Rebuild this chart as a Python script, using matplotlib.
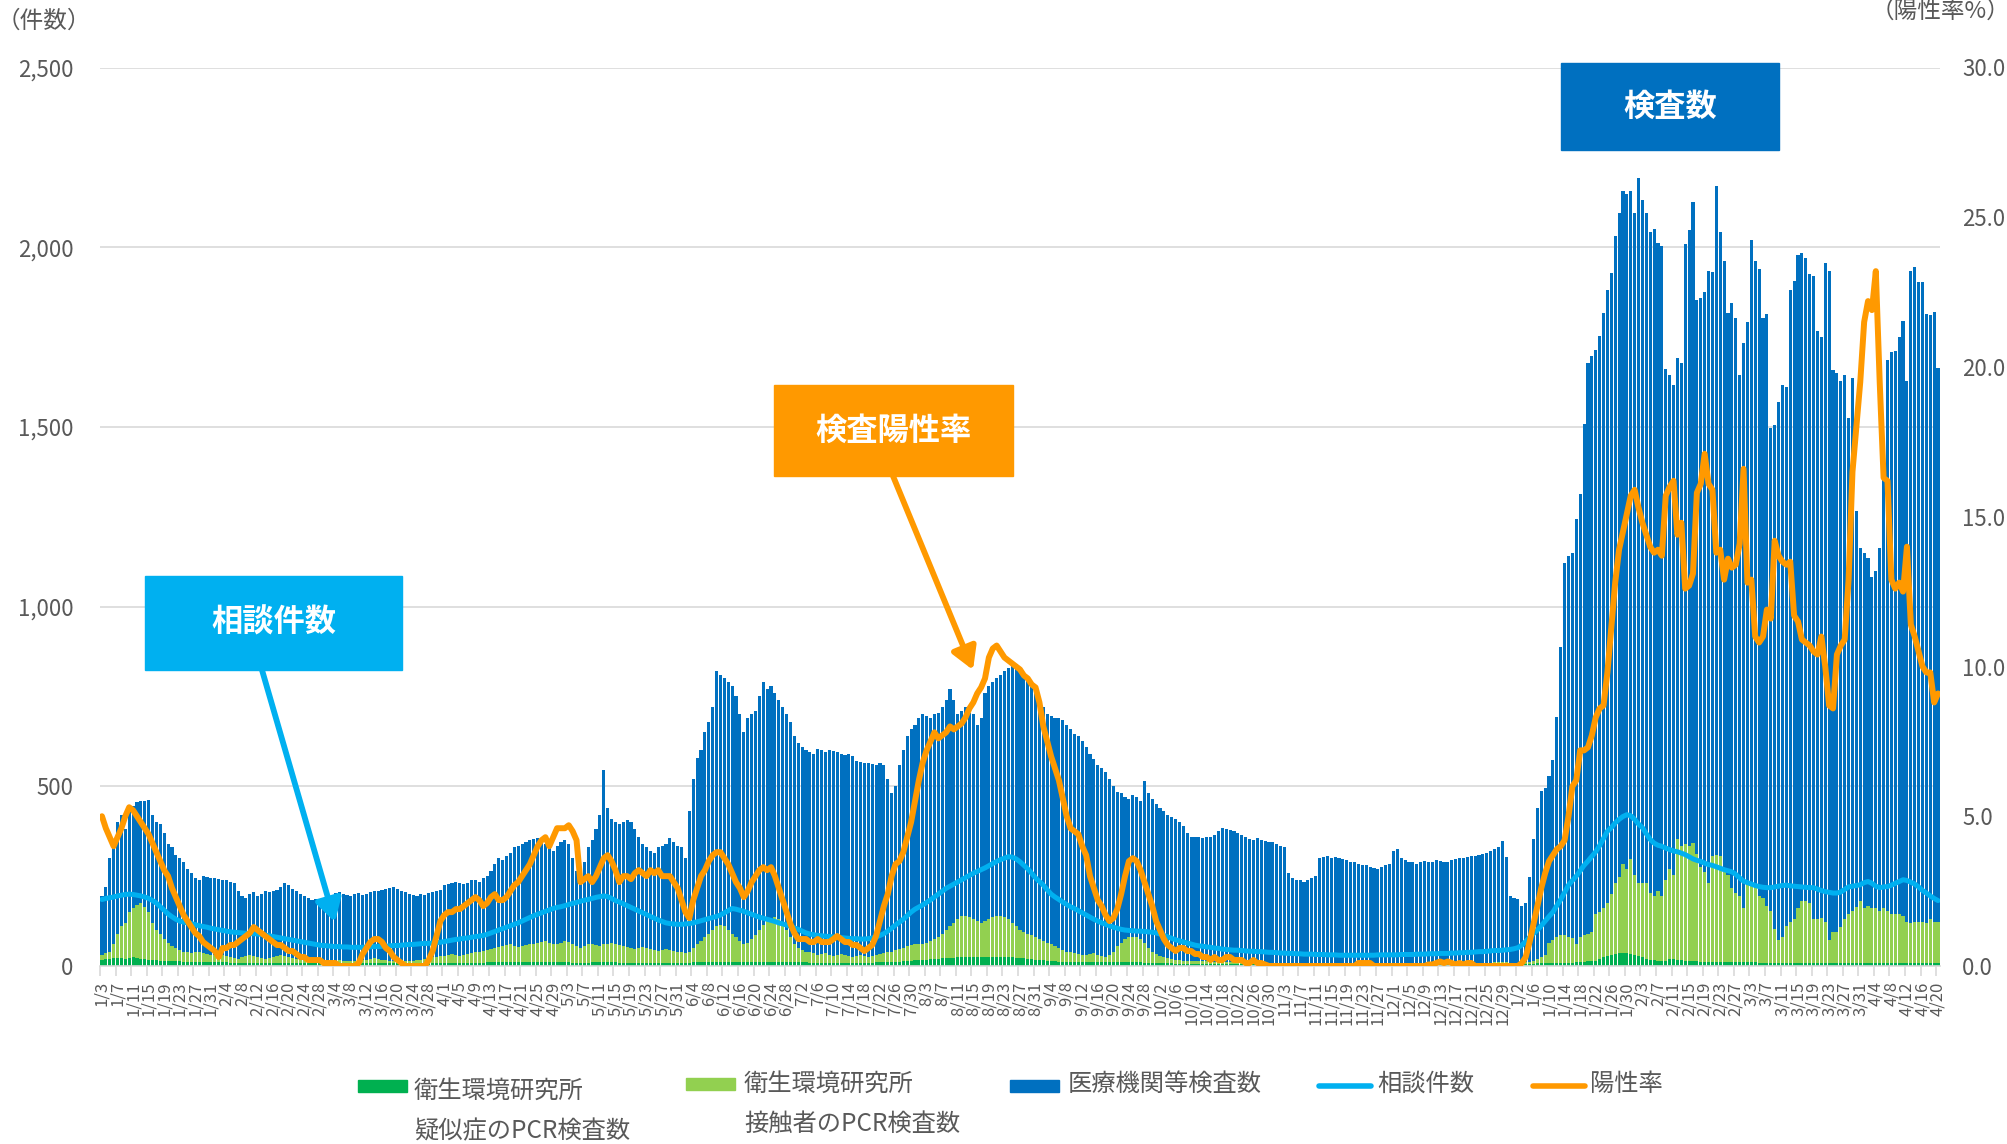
import numpy as np
import pandas as pd
import matplotlib
matplotlib.use("Agg")
import matplotlib.pyplot as plt
from matplotlib.patches import Rectangle, FancyArrowPatch
from matplotlib.lines import Line2D
from matplotlib.ticker import FuncFormatter

plt.rcParams["font.family"] = ["Noto Sans CJK JP", "DejaVu Sans"]

# ---- data (daily, 2021-01-03 .. 2022-04-20) ----
start_date = "2021-01-03"
end_date = "2022-04-20"

# total tests per day (top of the stacked bars)
total_tests = [
    195, 220, 300, 350, 400, 420, 380, 440, 445, 455, 460, 458, 462, 420, 400, 395, 370, 340, 330, 310, 300, 290, 270, 260, 245, 240, 250, 248, 245,
    245, 242, 240, 238, 235, 230, 210, 195, 190, 200, 205, 195, 200, 210, 205, 208, 212, 220, 232, 225, 215, 210, 200, 195, 190, 185, 186, 182,
    180, 178, 195, 202, 205, 200, 198, 196, 200, 202, 198, 200, 205, 208, 210, 212, 215, 218, 220, 215, 210, 205, 200, 198, 195, 200, 198, 202, 205, 208, 212,
    225, 228, 232, 235, 230, 228, 232, 238, 240, 235, 245, 250, 265, 285, 300, 295, 305, 315, 330, 335, 340, 345, 350, 352, 355, 350, 340, 330, 320, 335,
    345, 350, 340, 300, 265, 250, 290, 330, 350, 380, 420, 545, 440, 410, 400, 395, 400, 405, 400, 380, 360, 340, 330, 320, 315, 330, 335, 340, 355, 345, 335,
    330, 300, 430, 520, 580, 600, 650, 680, 720, 820, 810, 800, 790, 780, 750, 700, 650, 690, 700, 710, 750, 790, 770, 780, 760, 740, 720, 700, 680, 640,
    620, 610, 600, 595, 590, 605, 600, 595, 600, 598, 595, 590, 588, 590, 585, 570, 568, 565, 565, 562, 560, 565, 560, 520, 480, 500, 560, 600, 640, 660, 670,
    690, 700, 695, 690, 700, 705, 720, 740, 770, 740, 700, 710, 720, 705, 700, 670, 690, 760, 780, 790, 800, 810, 820, 830, 835, 840, 820, 810, 800, 780, 760,
    740, 720, 700, 695, 690, 690, 685, 670, 660, 645, 640, 625, 610, 590, 575, 560, 550, 540, 520, 500, 485, 480, 470, 465, 475, 470, 460, 515, 480, 465,
    450, 440, 430, 420, 415, 410, 400, 390, 370, 360, 358, 360, 355, 358, 360, 365, 375, 385, 380, 378, 375, 370, 365, 360, 352, 350, 355, 350, 348, 345, 345,
    340, 335, 330, 260, 245, 240, 238, 235, 240, 245, 250, 300, 302, 305, 300, 302, 300, 298, 295, 290, 288, 285, 282, 280, 275, 272, 270, 275, 280, 285,
    320, 325, 300, 295, 290, 288, 285, 290, 292, 288, 290, 295, 292, 290, 288, 295, 298, 300, 300, 302, 305, 305, 308, 312, 315, 320, 325, 330, 349, 302, 196,
    189, 186, 167, 174, 247, 352, 439, 487, 494, 530, 574, 693, 887, 1122, 1141, 1148, 1243, 1312, 1509, 1679, 1698, 1715, 1752, 1817, 1882, 1929, 2032, 2096, 2156, 2147, 2156,
    2096, 2192, 2132, 2096, 2042, 2052, 2013, 2003, 1660, 1645, 1616, 1693, 1679, 2009, 2049, 2126, 1853, 1860, 1875, 1933, 1930, 2169, 2042, 1962, 1817, 1846, 1802, 1645,
    1733, 1791, 2020, 1962, 1940, 1802, 1814, 1497, 1504, 1570, 1616, 1610, 1882, 1907, 1977, 1984, 1969, 1926, 1919, 1766, 1751, 1955, 1933, 1657, 1650, 1628, 1645, 1526, 1635, 1265, 1163,
    1148, 1134, 1083, 1100, 1163, 1398, 1686, 1708, 1712, 1751, 1795, 1628, 1933, 1945, 1904, 1904, 1814, 1810, 1820, 1664,
]

# research institute tests (suspected + contacts), top of the green part
lab_tests = [
    30, 35, 40, 60, 90, 110, 120, 150, 160, 170, 175, 165, 150, 120, 100, 90, 75, 65, 55, 50, 45, 40, 38, 35, 40, 38, 35, 32, 30,
    30, 28, 30, 28, 25, 22, 20, 25, 28, 30, 28, 25, 22, 20, 22, 25, 28, 30, 28, 25, 22, 20, 18, 18, 16, 15, 15, 14,
    14, 13, 14, 15, 16, 15, 14, 13, 14, 15, 16, 18, 20, 22, 20, 18, 16, 15, 14, 15, 16, 15, 14, 15, 16, 18, 20, 22, 24, 25, 28,
    28, 30, 32, 30, 28, 30, 32, 35, 38, 40, 42, 45, 48, 50, 52, 55, 58, 60, 55, 52, 55, 58, 60, 62, 65, 68, 70, 65, 60, 62,
    65, 70, 68, 60, 55, 50, 55, 60, 62, 58, 55, 60, 62, 65, 60, 58, 55, 52, 50, 48, 50, 52, 50, 48, 45, 42, 45, 48, 45, 42, 40,
    38, 35, 40, 50, 60, 70, 80, 90, 100, 110, 115, 110, 100, 90, 80, 70, 60, 65, 75, 85, 100, 115, 125, 130, 135, 130, 120, 100, 80, 60,
    50, 45, 40, 38, 35, 30, 32, 35, 30, 28, 30, 32, 30, 28, 25, 28, 30, 28, 25, 28, 30, 32, 35, 38, 40, 45, 48, 50, 55, 58, 60,
    60, 62, 65, 70, 75, 80, 90, 100, 110, 120, 130, 138, 140, 135, 130, 125, 120, 125, 130, 135, 140, 138, 135, 130, 120, 110, 100, 95, 90, 85, 80,
    75, 70, 65, 60, 55, 50, 45, 40, 38, 35, 32, 30, 30, 32, 35, 30, 28, 25, 30, 40, 55, 65, 75, 80, 82, 80, 75, 65, 50, 40,
    32, 28, 25, 22, 20, 18, 16, 15, 14, 13, 14, 15, 14, 13, 12, 12, 11, 10, 10, 11, 10, 10, 9, 9, 8, 8, 8, 8, 7, 7, 7,
    7, 6, 6, 6, 6, 5, 5, 5, 5, 5, 5, 5, 5, 5, 5, 5, 5, 5, 5, 5, 5, 5, 5, 5, 5, 5, 6, 6, 6, 6,
    6, 6, 6, 6, 6, 6, 6, 6, 6, 7, 7, 7, 7, 7, 7, 8, 8, 8, 8, 8, 8, 8, 8, 9, 9, 9, 10, 10, 10, 10, 8,
    8, 8, 10, 12, 12, 15, 20, 25, 30, 65, 73, 80, 87, 85, 80, 78, 60, 80, 87, 90, 94, 145, 150, 160, 174, 200, 232, 247, 283, 269, 298,
    254, 232, 232, 232, 203, 196, 210, 196, 240, 269, 254, 352, 334, 340, 334, 341, 312, 276, 262, 232, 305, 308, 305, 269, 254, 218, 203, 196,
    160, 225, 222, 218, 196, 189, 167, 152, 102, 73, 80, 110, 123, 131, 160, 182, 182, 175, 131, 131, 134, 123, 73, 94, 94, 109, 131, 145, 152, 165, 182,
    160, 167, 160, 160, 152, 160, 152, 145, 145, 145, 138, 123, 119, 123, 123, 123, 119, 131, 123, 123,
]

# research institute PCR tests of suspected cases (dark green)
lab_suspect = [
    18, 20, 20, 22, 22, 22, 20, 22, 24, 22, 20, 20, 18, 18, 16, 15, 15, 14, 14, 13, 13, 12, 12, 12, 12, 11, 11, 11, 10,
    10, 10, 10, 10, 9, 9, 9, 9, 9, 9, 8, 8, 8, 8, 8, 8, 8, 8, 8, 8, 7, 7, 7, 7, 7, 7, 7, 7,
    7, 7, 7, 7, 7, 7, 7, 7, 7, 7, 7, 7, 7, 7, 7, 7, 7, 7, 7, 7, 7, 7, 7, 7, 7, 7, 8, 8, 8, 8, 8,
    8, 8, 8, 8, 8, 8, 9, 9, 9, 9, 9, 10, 10, 10, 10, 10, 10, 10, 10, 10, 10, 10, 10, 10, 10, 10, 10, 10, 10, 10,
    10, 10, 10, 9, 9, 9, 9, 9, 10, 10, 10, 10, 10, 10, 10, 9, 9, 9, 9, 9, 9, 9, 9, 9, 9, 9, 9, 9, 9, 9, 9,
    9, 9, 9, 10, 10, 10, 11, 11, 12, 12, 12, 12, 12, 12, 12, 11, 11, 11, 12, 12, 12, 12, 12, 12, 12, 12, 11, 11, 10, 10,
    10, 10, 10, 9, 9, 9, 9, 9, 9, 9, 9, 9, 9, 9, 9, 9, 9, 9, 9, 9, 10, 10, 10, 11, 11, 12, 12, 13, 14, 15, 16,
    17, 18, 18, 19, 20, 20, 21, 22, 22, 23, 24, 24, 25, 25, 25, 25, 25, 25, 25, 26, 26, 26, 25, 25, 24, 23, 22, 21, 20, 19, 18,
    17, 16, 15, 14, 13, 12, 12, 11, 11, 10, 10, 10, 10, 10, 10, 10, 10, 10, 10, 10, 10, 10, 10, 10, 10, 10, 10, 9, 9, 9,
    8, 8, 7, 7, 7, 6, 6, 6, 6, 6, 6, 6, 6, 6, 6, 5, 5, 5, 5, 5, 5, 5, 5, 5, 5, 5, 5, 5, 5, 5, 5,
    5, 4, 4, 4, 4, 4, 4, 4, 4, 4, 4, 4, 4, 4, 4, 4, 4, 4, 4, 4, 4, 4, 4, 4, 4, 4, 4, 4, 4, 4,
    4, 4, 4, 4, 4, 4, 4, 4, 4, 5, 5, 5, 5, 5, 5, 5, 5, 5, 5, 5, 5, 5, 5, 6, 6, 6, 6, 6, 6, 6, 6,
    6, 6, 6, 6, 6, 6, 7, 7, 8, 8, 8, 8, 9, 9, 9, 9, 10, 10, 12, 13, 14, 15, 20, 25, 28, 30, 32, 35, 36, 35, 34,
    30, 28, 25, 20, 18, 16, 15, 15, 15, 20, 20, 18, 18, 15, 15, 14, 13, 12, 12, 12, 11, 11, 11, 10, 10, 10, 10, 10,
    10, 10, 10, 10, 9, 9, 9, 9, 9, 9, 9, 9, 9, 9, 9, 9, 9, 9, 9, 9, 9, 9, 9, 9, 9, 9, 9, 9, 9, 9, 9,
    9, 9, 9, 9, 9, 9, 9, 9, 9, 9, 9, 9, 9, 9, 9, 9, 9, 9, 9, 9,
]

# consultations (light blue line, left axis)
consult = [
    185, 188, 190, 192, 195, 197, 199, 200, 199, 197, 195, 192, 188, 182, 175, 165, 155, 145, 137, 130, 125, 122, 120, 118, 115, 112, 110, 108, 105,
    103, 101, 99, 97, 95, 94, 93, 92, 91, 90, 90, 89, 88, 86, 84, 82, 80, 78, 76, 74, 72, 70, 68, 66, 64, 62, 60, 58,
    57, 56, 55, 54, 54, 53, 53, 52, 52, 52, 52, 53, 53, 54, 54, 55, 55, 56, 57, 57, 58, 59, 60, 60, 61, 62, 63, 63, 64, 65, 66,
    68, 70, 72, 74, 75, 77, 78, 80, 82, 83, 85, 88, 92, 96, 100, 104, 108, 112, 116, 120, 125, 130, 135, 140, 144, 148, 152, 156, 160, 163,
    165, 168, 171, 174, 177, 180, 183, 185, 188, 191, 193, 195, 193, 188, 182, 178, 173, 168, 163, 158, 153, 148, 143, 138, 133, 128, 124, 120, 118, 117, 116,
    116, 117, 118, 120, 123, 126, 129, 132, 135, 138, 142, 148, 154, 160, 158, 155, 152, 148, 144, 140, 136, 133, 130, 127, 124, 120, 117, 114, 110, 106,
    102, 97, 92, 89, 87, 85, 84, 83, 82, 81, 80, 79, 78, 77, 76, 76, 75, 75, 76, 78, 81, 85, 90, 97, 105, 114, 122, 130, 140, 150, 158,
    164, 170, 177, 184, 192, 200, 208, 216, 222, 228, 234, 240, 246, 252, 258, 263, 268, 273, 279, 285, 291, 296, 300, 304, 303, 298, 290, 280, 270, 258, 245,
    235, 225, 212, 200, 192, 185, 178, 171, 165, 160, 154, 148, 142, 136, 130, 125, 120, 116, 112, 108, 105, 102, 100, 99, 98, 97, 97, 96, 95, 94,
    92, 89, 85, 81, 77, 73, 70, 67, 64, 61, 58, 56, 55, 53, 52, 50, 49, 47, 46, 45, 44, 44, 43, 42, 41, 41, 40, 40, 39, 38, 38,
    37, 36, 36, 35, 35, 34, 34, 33, 33, 33, 32, 32, 32, 31, 31, 31, 30, 30, 30, 30, 30, 30, 30, 30, 30, 30, 31, 31, 31, 31,
    31, 31, 32, 32, 32, 32, 33, 33, 33, 34, 34, 34, 35, 35, 35, 36, 36, 37, 37, 38, 38, 39, 40, 40, 41, 42, 43, 43, 44, 45, 46,
    48, 51, 58, 68, 80, 90, 100, 112, 125, 138, 150, 168, 185, 205, 225, 238, 250, 265, 280, 292, 305, 318, 335, 355, 375, 385, 398, 408, 416, 421, 418,
    408, 395, 385, 368, 352, 342, 336, 333, 328, 324, 320, 318, 314, 310, 304, 298, 294, 291, 286, 282, 280, 276, 272, 268, 265, 262, 255, 245,
    236, 232, 228, 224, 221, 219, 218, 218, 220, 222, 224, 225, 223, 222, 221, 220, 219, 218, 218, 214, 210, 207, 205, 203, 203, 206, 213, 220, 222, 224, 226,
    232, 235, 230, 222, 218, 220, 221, 225, 230, 235, 240, 238, 233, 228, 220, 210, 203, 195, 188, 182,
]

# positive rate in % (orange line, right axis)
positivity = [
    5.0, 4.6, 4.3, 4.0, 4.3, 4.6, 5.0, 5.3, 5.2, 5.0, 4.8, 4.6, 4.4, 4.1, 3.8, 3.5, 3.2, 3.0, 2.6, 2.3, 2.0, 1.7, 1.5, 1.3, 1.1, 1.0, 0.8, 0.7, 0.6,
    0.5, 0.3, 0.6, 0.6, 0.7, 0.7, 0.8, 0.9, 1.0, 1.1, 1.3, 1.2, 1.1, 1.0, 0.9, 0.8, 0.7, 0.7, 0.6, 0.5, 0.5, 0.4, 0.3, 0.3, 0.2, 0.2, 0.2, 0.2,
    0.1, 0.1, 0.1, 0.1, 0.0, 0.0, 0.0, 0.0, 0.0, 0.1, 0.4, 0.6, 0.8, 0.9, 0.9, 0.8, 0.6, 0.5, 0.3, 0.2, 0.1, 0.0, 0.0, 0.0, 0.0, 0.0, 0.0, 0.2, 0.5, 1.0, 1.5,
    1.7, 1.8, 1.8, 1.9, 1.9, 2.0, 2.1, 2.2, 2.3, 2.2, 2.0, 2.1, 2.3, 2.4, 2.2, 2.2, 2.3, 2.5, 2.7, 2.8, 3.0, 3.2, 3.4, 3.7, 4.0, 4.2, 4.3, 4.0, 4.3, 4.6,
    4.6, 4.6, 4.7, 4.5, 4.2, 2.8, 2.9, 3.0, 2.8, 3.0, 3.3, 3.6, 3.7, 3.5, 3.2, 2.8, 3.0, 3.0, 2.9, 3.1, 3.2, 3.1, 3.0, 3.2, 3.1, 3.2, 3.0, 3.0, 3.0, 2.8, 2.6,
    2.2, 1.8, 1.6, 2.2, 2.6, 3.0, 3.2, 3.5, 3.7, 3.8, 3.8, 3.6, 3.4, 3.1, 2.8, 2.6, 2.3, 2.5, 2.8, 3.0, 3.2, 3.3, 3.2, 3.3, 3.0, 2.6, 2.2, 1.8, 1.4, 1.1,
    0.9, 0.9, 0.9, 0.8, 0.8, 0.9, 0.8, 0.8, 0.8, 0.9, 1.0, 0.9, 0.8, 0.8, 0.7, 0.7, 0.6, 0.5, 0.6, 0.7, 1.0, 1.5, 2.0, 2.4, 3.0, 3.4, 3.5, 3.8, 4.3, 4.8, 5.5,
    6.2, 6.8, 7.2, 7.5, 7.8, 7.6, 7.7, 7.8, 8.0, 7.9, 8.0, 8.1, 8.3, 8.6, 8.8, 9.1, 9.3, 9.6, 10.3, 10.6, 10.7, 10.5, 10.3, 10.2, 10.1, 10.0, 9.9, 9.7, 9.6, 9.4, 9.3,
    8.8, 8.0, 7.5, 7.0, 6.6, 6.2, 5.6, 5.0, 4.6, 4.5, 4.4, 4.0, 3.7, 3.0, 2.6, 2.2, 2.0, 1.7, 1.5, 1.6, 1.9, 2.4, 3.0, 3.5, 3.6, 3.5, 3.2, 2.8, 2.4, 2.0,
    1.5, 1.2, 0.9, 0.7, 0.6, 0.5, 0.6, 0.6, 0.5, 0.5, 0.4, 0.4, 0.3, 0.3, 0.2, 0.3, 0.2, 0.2, 0.3, 0.3, 0.2, 0.2, 0.2, 0.1, 0.1, 0.2, 0.1, 0.1, 0.05, 0.0, 0.0,
    0.0, 0.0, 0.0, 0.0, 0.0, 0.0, 0.0, 0.0, 0.0, 0.0, 0.0, 0.0, 0.0, 0.0, 0.0, 0.0, 0.0, 0.0, 0.0, 0.0, 0.0, 0.1, 0.1, 0.1, 0.1, 0.0, 0.0, 0.0, 0.0, 0.0,
    0.0, 0.0, 0.0, 0.0, 0.0, 0.0, 0.0, 0.0, 0.0, 0.05, 0.05, 0.1, 0.15, 0.1, 0.15, 0.1, 0.05, 0.1, 0.05, 0.1, 0.1, 0.0, 0.0, 0.0, 0.0, 0.0, 0.0, 0.0, 0.0, 0.0, 0.0,
    0.0, 0.0, 0.1, 0.3, 0.8, 1.4, 2.0, 2.6, 3.1, 3.5, 3.7, 3.9, 4.0, 4.2, 5.0, 6.0, 6.2, 7.2, 7.2, 7.3, 7.7, 8.3, 8.6, 8.7, 9.8, 11.3, 12.8, 13.9, 14.5, 15.1, 15.7,
    15.9, 15.3, 14.8, 14.4, 14.0, 13.8, 13.9, 13.7, 15.7, 16.0, 16.2, 14.4, 14.8, 12.6, 12.7, 13.1, 15.8, 16.1, 17.1, 16.1, 15.9, 13.8, 13.9, 12.9, 13.6, 13.3, 13.4, 14.1,
    16.6, 12.8, 12.9, 11.0, 10.8, 11.0, 11.9, 11.6, 14.2, 13.7, 13.5, 13.4, 13.5, 11.7, 11.5, 10.9, 10.8, 10.7, 10.5, 10.4, 11.0, 10.0, 8.7, 8.6, 10.4, 10.7, 10.9, 12.9, 16.5, 18.0, 19.5,
    21.5, 22.2, 21.9, 23.2, 19.5, 16.3, 16.2, 12.9, 12.6, 12.8, 12.5, 14.0, 11.4, 11.0, 10.5, 10.0, 9.8, 9.8, 8.8, 9.1,
]

legend_labels = ["衛生環境研究所\n疑似症のPCR検査数", "衛生環境研究所\n接触者のPCR検査数",
                 "医療機関等検査数", "相談件数", "陽性率"]

# colours
DKGREEN = "#00B050"
LTGREEN = "#92D050"
BLUE = "#0070C0"
LTBLUE = "#00B0F0"
ORANGE = "#FF9900"
GRID = "#D9D9D9"
TXT = "#595959"

dates = pd.date_range(start_date, end_date, freq="D")
x = np.arange(len(dates))
total = np.array(total_tests, dtype=float)
lab = np.array(lab_tests, dtype=float)
susp = np.array(lab_suspect, dtype=float)

W, H = 2008, 1144
fig = plt.figure(figsize=(W / 100, H / 100), dpi=100)


def fx(px):
    return px / W


def fy(py):
    return 1 - py / H


ax = fig.add_axes([fx(100), fy(966), fx(1840), (966 - 67.5) / H])

bw = 0.8
ax.bar(x, susp, width=bw, color=DKGREEN, linewidth=0, zorder=2)
ax.bar(x, lab - susp, bottom=susp, width=bw, color=LTGREEN, linewidth=0, zorder=2)
ax.bar(x, total - lab, bottom=lab, width=bw, color=BLUE, linewidth=0, zorder=2)
ax.plot(x, consult, color=LTBLUE, lw=3.6, zorder=4, solid_joinstyle="round", solid_capstyle="round")

ax.set_xlim(-0.5, len(x) - 0.5)
ax.set_ylim(0, 2500)
ax.set_yticks(np.arange(0, 2501, 500))
ax.yaxis.set_major_formatter(FuncFormatter(lambda v, p: f"{int(v):,}"))
ax.yaxis.grid(True, color=GRID, lw=1.2)
ax.set_axisbelow(True)
for s in ["top", "left", "right"]:
    ax.spines[s].set_visible(False)
ax.spines["bottom"].set_color(GRID)
ax.spines["bottom"].set_linewidth(1.2)
ax.tick_params(axis="y", length=0, labelsize=16, labelcolor=TXT, pad=19)

# x ticks: labels every 4 days, tick marks at category boundaries
ax.set_xticks(x[::4])
ax.set_xticklabels([f"{d.month}/{d.day}" for d in dates[::4]], rotation=90,
                   fontsize=12, color=TXT, va="top", ha="center")
ax.tick_params(axis="x", which="major", length=0, pad=11)
ax.set_xticks(x[::4] - 0.5, minor=True)
ax.tick_params(axis="x", which="minor", length=7, color=GRID, width=1.2)

ax2 = ax.twinx()
ax2.plot(x, positivity, color=ORANGE, lw=4.3, zorder=5, solid_joinstyle="round", solid_capstyle="round")
ax2.set_ylim(0, 30)
ax2.set_yticks(np.arange(0, 31, 5))
ax2.yaxis.set_major_formatter(FuncFormatter(lambda v, p: f"{v:.1f}"))
ax2.tick_params(axis="y", length=0, labelsize=16, labelcolor=TXT, pad=16)
for s in ax2.spines.values():
    s.set_visible(False)

# axis unit titles
fig.text(fx(-3), fy(21), "（件数）", fontsize=17, color=TXT, ha="left", va="center")
fig.text(fx(2010), fy(11), "（陽性率%）", fontsize=17, color=TXT, ha="right", va="center")

# callout boxes with arrows
callouts = [
    ("相談件数", LTBLUE, (145, 576, 402, 670), ((262, 670), (335, 922))),
    ("検査陽性率", ORANGE, (774, 385, 1013, 476), ((893, 476), (973, 670))),
    ("検査数", BLUE, (1561, 63, 1779, 150), None),
]
for label, col, (x0, y0, x1, y1), arrow in callouts:
    fig.add_artist(Rectangle((fx(x0), fy(y1)), fx(x1 - x0), (y1 - y0) / H,
                             transform=fig.transFigure, color=col, zorder=10))
    fig.text(fx((x0 + x1) / 2), fy((y0 + y1) / 2), label, fontsize=22.5, fontweight="bold",
             color="white", ha="center", va="center", zorder=11)
    if arrow:
        (ax0, ay0), (ax1, ay1) = arrow
        fig.add_artist(FancyArrowPatch(
            (fx(ax0), fy(ay0)), (fx(ax1), fy(ay1)), transform=fig.transFigure,
            arrowstyle="-|>,head_length=0.6,head_width=0.35", mutation_scale=22,
            color=col, lw=4.2, zorder=10, shrinkA=0, shrinkB=0))

# legend (drawn by hand to keep the two-line labels like the original)
leg_items = [
    ("patch", DKGREEN, 358, 1086, 414, 1091),
    ("patch", LTGREEN, 686, 1084, 744, 1084),
    ("patch", BLUE, 1010, 1086, 1068, 1084),
    ("line", LTBLUE, 1319, 1086, 1377, 1084),
    ("line", ORANGE, 1533, 1086, 1590, 1084),
]
for (kind, col, hx, hy, tx, ty), lab_txt in zip(leg_items, legend_labels):
    if kind == "patch":
        fig.add_artist(Rectangle((fx(hx), fy(hy + 6)), fx(49), 12 / H,
                                 transform=fig.transFigure, color=col))
    else:
        fig.add_artist(Line2D([fx(hx), fx(hx + 52)], [fy(hy), fy(hy)], transform=fig.transFigure,
                              color=col, lw=4, solid_capstyle="round"))
    lines = lab_txt.split("\n")
    fig.text(fx(tx), fy(ty), lines[0], fontsize=17.5, color=TXT, ha="left", va="center")
    if len(lines) > 1:
        fig.text(fx(tx), fy(ty + 40), lines[1], fontsize=17.5, color=TXT, ha="left", va="center")

fig.savefig("out.png", dpi=100)
